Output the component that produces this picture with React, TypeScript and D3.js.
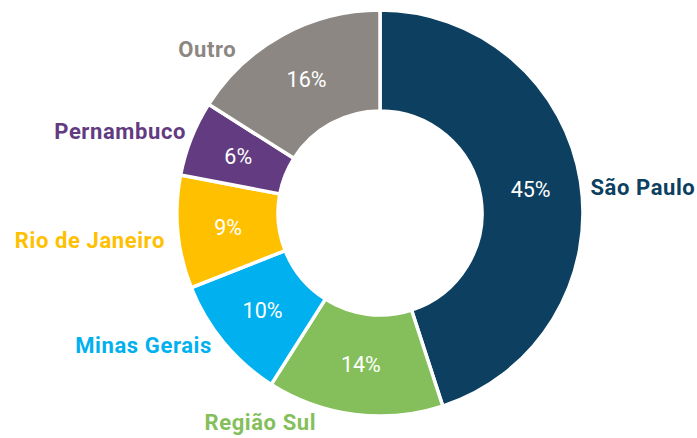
import React from "react";
import * as d3 from "d3";

const categories = ["São Paulo", "Região Sul", "Minas Gerais", "Rio de Janeiro", "Pernambuco", "Outro"];
const values = [45, 14, 10, 9, 6, 16];
const colors = ["#0c3f60", "#84bf5b", "#00b0ef", "#ffc000", "#633b81", "#8c8782"];

// layout nudges for outer labels (dx, dy) in px
const labelNudge: [number, number][] = [
  [0, 8],
  [-93, -2],
  [-4, -3],
  [-3, 7],
  [4, -3],
  [-41, 23],
];

const W = 697;
const H = 438;
const cx = 380;
const cy = 213;
const outerR = 203;
const innerR = 102;
const labelR = 213;

export default function App() {
  const pie = d3.pie<number>().sort(null).value((d) => d)(values);
  const arc = d3.arc<d3.PieArcDatum<number>>().innerRadius(innerR).outerRadius(outerR);
  const font = "Roboto, 'DejaVu Sans', sans-serif";
  return (
    <svg width={W} height={H} style={{ position: "absolute", left: 0, top: 0 }} fontFamily={font}>
      <g transform={`translate(${cx},${cy})`}>
        {pie.map((p, i) => (
          <path key={i} d={arc(p) || ""} fill={colors[i]} stroke="#fff" strokeWidth={3.5} strokeLinejoin="miter" />
        ))}
        {pie.map((p, i) => {
          const [x, y] = arc.centroid(p);
          return (
            <text key={"v" + i} x={x} y={y} fill="#fff" fontSize={21.5} textAnchor="middle" dominantBaseline="central">
              {values[i]}%
            </text>
          );
        })}
        {pie.map((p, i) => {
          const mid = (p.startAngle + p.endAngle) / 2;
          const x = labelR * Math.sin(mid) + labelNudge[i][0];
          const y = -labelR * Math.cos(mid) + labelNudge[i][1];
          const anchor = i === 1 ? "middle" : Math.sin(mid) >= 0 ? "start" : "end";
          return (
            <text
              key={"l" + i}
              x={x}
              y={y}
              fill={colors[i]}
              fontSize={22}
              fontWeight="bold"
              textAnchor={anchor}
              dominantBaseline="central"
              letterSpacing={0.6}
            >
              {categories[i]}
            </text>
          );
        })}
      </g>
    </svg>
  );
}
